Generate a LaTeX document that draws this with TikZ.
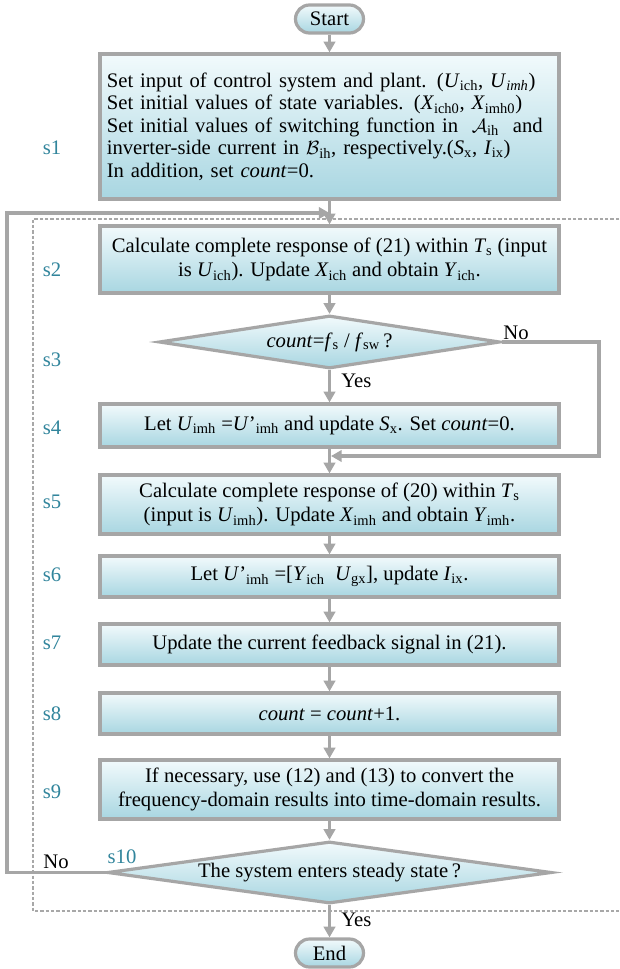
\documentclass[tikz,border=0pt]{standalone}
\usepackage{fontspec}
\setmainfont{Liberation Serif}
\usetikzlibrary{shapes.geometric,arrows.meta,calc}
\definecolor{bord}{HTML}{A6A6A6}
\definecolor{topc}{HTML}{F2FAFC}
\definecolor{botc}{HTML}{A8D6E1}
\definecolor{labc}{HTML}{31859C}
\definecolor{dashc}{HTML}{A8A8A8}
\newcommand\sv[2]{\textit{#1}\textsubscript{#2}}
\begin{document}
\begin{tikzpicture}[x=0.75pt,y=-0.75pt,
  font=\fontsize{15.5}{18.4}\selectfont,
  box/.style={draw=bord, line width=2.4pt, top color=topc, bottom color=botc,
    minimum width=344.25pt, inner sep=0pt, align=center},
  dia/.style={diamond, draw=bord, line width=2.4pt, top color=topc, bottom color=botc,
    inner sep=0pt, align=center},
  term/.style={draw=bord, line width=2.4pt, top color=topc, bottom color=botc,
    rounded corners=10.5pt, minimum width=51pt, minimum height=21pt, inner sep=0pt},
  conn/.style={draw=bord, line width=2.4pt, -{Triangle[length=8pt,width=8.5pt]}},
  steplab/.style={text=labc},
  frame/.style={draw=dashc, line width=0.8pt, dash pattern=on 2.4pt off 1.6pt}
]
\fill[white] (0,0) rectangle (619,969);
\useasboundingbox (0,0) rectangle (619,969);

% dashed frame
\draw[frame] (619,219) -- (33,219) -- (33,911) -- (619,911);

% terminals
\node[term] (start) at (329.5,19) {Start};
\node[term] (end) at (329.5,953) {End};

% boxes
\node[box, minimum height=108.75pt, text width=334pt, align=left,
  font=\fontsize{15.5}{16.9}\selectfont] (s1) at (329.5,126.5)
{Set input of control system and plant. (\sv{U}{ich}, \sv{U}{\textit{imh}})\\
Set initial values of state variables. (\sv{X}{ich0}, \sv{X}{imh0})\\
Set initial values of switching function in \ $\mathcal{A}$\textsubscript{ih} \ and\\
inverter-side current in $\mathcal{B}$\textsubscript{ih}, respectively.(\sv{S}{x}, \sv{I}{ix})\\
In addition, set \textit{count}=0.};

\node[box, minimum height=50.25pt] (s2) at (329.5,259.5)
{Calculate complete response of (21) within \sv{T}{s} (input\\
is \sv{U}{ich}). Update \sv{X}{ich} and obtain \sv{Y}{ich}.};

\node[dia, minimum width=255.75pt, minimum height=39.75pt, aspect=6.43] (s3) at (329.5,342)
{\textit{count}=\sv{f}{s} / \sv{f}{sw}\,?};

\node[box, minimum height=32.25pt] (s4) at (329.5,425.5)
{Let \sv{U}{imh} =\textit{U}’\textsubscript{imh} and update \sv{S}{x}. Set \textit{count}=0.};

\node[box, minimum height=44.25pt] (s5) at (329.5,504.5)
{Calculate complete response of (20) within \sv{T}{s}\\
(input is \sv{U}{imh}). Update \sv{X}{imh} and obtain \sv{Y}{imh}.};

\node[box, minimum height=30.75pt] (s6) at (329.5,576.5)
{Let \textit{U}’\textsubscript{imh} =[\sv{Y}{ich} \ \sv{U}{gx}], update \sv{I}{ix}.};

\node[box, minimum height=30.75pt] (s7) at (329.5,644.5)
{Update the current feedback signal in (21).};

\node[box, minimum height=30.75pt] (s8) at (329.5,713.5)
{\textit{count} = \textit{count}+1.};

\node[box, minimum height=44.25pt] (s9) at (329.5,789.5)
{If necessary, use (12) and (13) to convert the\\
frequency-domain results into time-domain results.};

\node[dia, minimum width=333pt, minimum height=46.5pt, aspect=7.16] (s10) at (329.5,872.5)
{The system enters steady state\,?};

% step labels
\node[steplab] (l1) at (52,148) {s1};
\node[steplab] (l2) at (52,270) {s2};
\node[steplab] (l3) at (52,360) {s3};
\node[steplab] (l4) at (52,428) {s4};
\node[steplab] (l5) at (52,502) {s5};
\node[steplab] (l6) at (52,575) {s6};
\node[steplab] (l7) at (52,643) {s7};
\node[steplab] (l8) at (52,714) {s8};
\node[steplab] (l9) at (52,792) {s9};
\node[steplab] (l10) at (122,857) {s10};

% yes / no
\node[anchor=west, inner sep=0pt] (y1) at (341,381) {Yes};
\node[anchor=west, inner sep=0pt] (y2) at (341,920) {Yes};
\node (n1) at (516,333) {No};
\node (n2) at (56,862) {No};

% connectors
\coordinate (j1) at (329.5,213);
\coordinate (lc) at (7,872.5);
\coordinate (rc) at (599,342);
\coordinate (j2) at (331,456);

\draw[conn] (start) -- (s1);
\draw[conn] (s1) -- (s2);
\draw[conn] (s10.west) -- (lc) |- (j1);
\draw[conn] (s2) -- (s3);
\draw[conn] (s3) -- (s4);
\draw[conn] (s3.east) -- (rc) |- (j2);
\draw[conn] (s4) -- (s5);
\draw[conn] (s5) -- (s6);
\draw[conn] (s6) -- (s7);
\draw[conn] (s7) -- (s8);
\draw[conn] (s8) -- (s9);
\draw[conn] (s9) -- (s10);
\draw[conn] (s10) -- (end);
\end{tikzpicture}
\end{document}
